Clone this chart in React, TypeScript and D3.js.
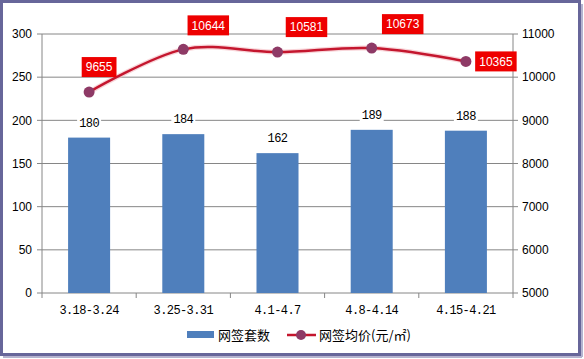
import React from "react";
import * as d3 from "d3";

const categories = ["3.18-3.24", "3.25-3.31", "4.1-4.7", "4.8-4.14", "4.15-4.21"];
const counts = [180, 184, 162, 189, 188];
const prices = [9655, 10644, 10581, 10673, 10365];
const leftTicks = [0, 50, 100, 150, 200, 250, 300];
const rightTicks = [5000, 6000, 7000, 8000, 9000, 10000, 11000];
const seriesNames = ["网签套数", "网签均价(元/㎡)"];
// label placement offsets (dx, dy) relative to each point
const labelOffsets: [number, number][] = [[10, -25], [25, -24], [29, -25], [31, -24], [30, 0]];

const W = 584, H = 359;
const L = 42, R = 513, T = 34, B = 293;

export default function App() {
  const xBand = d3.scaleBand<string>().domain(categories).range([L, R]).paddingInner(0.554).paddingOuter(0.277);
  const xStep = d3.scaleBand<string>().domain(categories).range([L, R]).padding(0);
  const yL = d3.scaleLinear().domain([0, 300]).range([B, T]);
  const yR = d3.scaleLinear().domain([5000, 11000]).range([B, T]);
  const cx = (c: string) => (xStep(c) as number) + xStep.bandwidth() / 2;
  const pts: [number, number][] = prices.map((p, i) => [cx(categories[i]), yR(p)]);
  const line = d3.line().curve(d3.curveCatmullRom.alpha(0))(pts) as string;
  const grid = "#868686";
  const boundaries = categories.map((c) => xStep(c) as number).concat([R]);
  const monoFont = "Liberation Mono";

  return (
    <svg width={W} height={H} style={{ position: "absolute", left: 0, top: 0, background: "#fff" }}>
      <rect x={1.5} y={1.5} width={578} height={353} fill="#fff" stroke="#67669a" strokeWidth={3} />
      <line x1={3} y1={357} x2={582} y2={357} stroke="#b5b3cf" strokeWidth={2} />
      <line x1={582} y1={4} x2={582} y2={357} stroke="#b5b3cf" strokeWidth={2} />
      {/* gridlines */}
      {leftTicks.map((t) => (
        <line key={"g" + t} x1={L - 5} x2={R} y1={yL(t)} y2={yL(t)} stroke={grid} strokeWidth={1} />
      ))}
      {/* left axis */}
      <line x1={L} x2={L} y1={T} y2={B} stroke={grid} />
      {leftTicks.map((t) => (
        <text key={"l" + t} x={L - 10} y={yL(t)} dy="0.35em" textAnchor="end" fontFamily="Liberation Sans" fontSize={12} fill="#000">
          {t}
        </text>
      ))}
      {/* right axis */}
      <line x1={R} x2={R} y1={T} y2={B} stroke={grid} />
      {rightTicks.map((t) => (
        <g key={"r" + t}>
          <line x1={R} x2={R + 5} y1={yR(t)} y2={yR(t)} stroke={grid} />
          <text x={R + 9} y={yR(t)} dy="0.35em" fontFamily="Liberation Sans" fontSize={12} fill="#000">
            {t}
          </text>
        </g>
      ))}
      {/* bottom ticks */}
      {boundaries.map((b, i) => (
        <line key={"b" + i} x1={b} x2={b} y1={B} y2={B + 5} stroke={grid} />
      ))}
      {categories.map((c) => (
        <text key={"c" + c} x={cx(c)} y={314} textAnchor="middle" fontFamily={monoFont} fontSize={12} letterSpacing={-0.6} fill="#000">
          {c}
        </text>
      ))}
      {/* bars */}
      {counts.map((v, i) => (
        <rect key={"bar" + i} x={xBand(categories[i])} y={yL(v)} width={xBand.bandwidth()} height={B - yL(v)} fill="#4f7fbc" />
      ))}
      {counts.map((v, i) => (
        <g key={"bl" + i}>
          <rect x={cx(categories[i]) - 12} y={yL(v) - 22} width={24} height={14} fill="#fff" />
          <text x={cx(categories[i])} y={yL(v) - 11} textAnchor="middle" fontFamily={monoFont} fontSize={12} letterSpacing={-0.6} fill="#000">
            {v}
          </text>
        </g>
      ))}
      {/* line */}
      <path d={line} fill="none" stroke="#f3b9c0" strokeWidth={5} strokeOpacity={0.6} />
      <path d={line} fill="none" stroke="#c4162e" strokeWidth={2.5} />
      {pts.map((p, i) => (
        <circle key={"pt" + i} cx={p[0]} cy={p[1]} r={5.5} fill="#8e3a66" />
      ))}
      {pts.map((p, i) => {
        const label = String(prices[i]);
        const w = label.length * 6.7 + 8;
        const lx = p[0] + labelOffsets[i][0];
        const ly = p[1] + labelOffsets[i][1];
        return (
          <g key={"pl" + i}>
            <rect x={lx - w / 2} y={ly - 10} width={w} height={20} fill="#ee0000" />
            <text x={lx} y={ly} dy="0.36em" textAnchor="middle" fontFamily="Liberation Sans" fontSize={12} fill="#fff">
              {label}
            </text>
          </g>
        );
      })}
      {/* legend */}
      <rect x={187} y={331} width={27} height={7} fill="#4f7fbc" />
      <text x={218} y={335} dy="0.36em" fontFamily="Noto Sans CJK SC" fontSize={13} fill="#000">
        {seriesNames[0]}
      </text>
      <line x1={287} x2={316} y1={335} y2={335} stroke="#c4162e" strokeWidth={2.5} />
      <circle cx={301} cy={335} r={5} fill="#8e3a66" />
      <text x={319} y={335} dy="0.36em" fontFamily="Noto Sans CJK SC" fontSize={13} fill="#000">
        {seriesNames[1]}
      </text>
    </svg>
  );
}
